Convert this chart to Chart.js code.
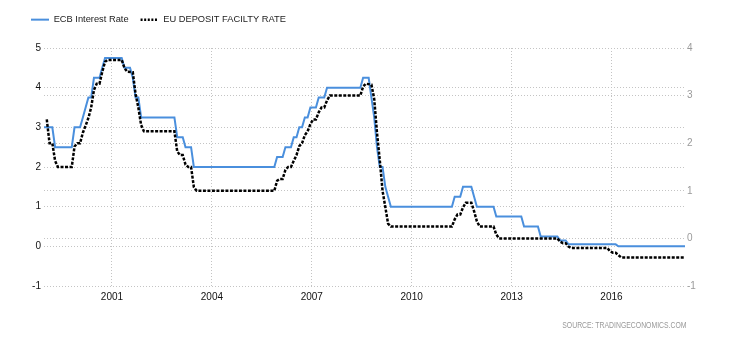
<!DOCTYPE html>
<html>
<head>
<meta charset="utf-8">
<script src="https://cdn.jsdelivr.net/npm/chart.js@4.4.1/dist/chart.umd.min.js"></script>
<style>
  html, body { margin: 0; padding: 0; background: #fff; }
  #wrap { position: relative; width: 730px; height: 340px; }
  #source {
    position: absolute; right: 43px; top: 320px;
    font: 8.4px "Liberation Sans", Arial, sans-serif; color: #999;
    transform: scaleX(0.82); transform-origin: right center; white-space: nowrap;
  }
</style>
</head>
<body>
<div id="wrap">
  <canvas id="rates" width="730" height="340"></canvas>
  <div id="source">SOURCE: TRADINGECONOMICS.COM</div>
</div>
<script>
// ECB main refinancing rate, month-end values (only months where the line bends)
const ecbMonths = [
  '1998-12', '1999-03', '1999-04', '1999-10', '1999-11', '2000-01', '2000-02', '2000-03',
  '2000-04', '2000-05', '2000-06', '2000-08', '2000-09', '2000-10', '2001-04', '2001-05',
  '2001-07', '2001-08', '2001-09', '2001-10', '2001-11', '2002-11', '2002-12', '2003-02',
  '2003-03', '2003-05', '2003-06', '2005-11', '2005-12', '2006-02', '2006-03', '2006-05',
  '2006-06', '2006-07', '2006-08', '2006-09', '2006-10', '2006-11', '2006-12', '2007-02',
  '2007-03', '2007-05', '2007-06', '2008-06', '2008-07', '2008-09', '2008-10', '2008-11',
  '2008-12', '2009-01', '2009-02', '2009-03', '2009-04', '2009-05', '2011-03', '2011-04',
  '2011-06', '2011-07', '2011-10', '2011-11', '2011-12', '2012-06', '2012-07', '2013-04',
  '2013-05', '2013-10', '2013-11', '2014-05', '2014-06', '2014-08', '2014-09', '2016-02',
  '2016-03', '2018-03'
];
const ecbRates = [
  3.00, 3.00, 2.50, 2.50, 3.00, 3.00, 3.25, 3.50,
  3.75, 3.75, 4.25, 4.25, 4.50, 4.75, 4.75, 4.50,
  4.50, 4.25, 3.75, 3.75, 3.25, 3.25, 2.75, 2.75,
  2.50, 2.50, 2.00, 2.00, 2.25, 2.25, 2.50, 2.50,
  2.75, 2.75, 3.00, 3.00, 3.25, 3.25, 3.50, 3.50,
  3.75, 3.75, 4.00, 4.00, 4.25, 4.25, 3.75, 3.25,
  2.50, 2.00, 2.00, 1.50, 1.25, 1.00, 1.00, 1.25,
  1.25, 1.50, 1.50, 1.25, 1.00, 1.00, 0.75, 0.75,
  0.50, 0.50, 0.25, 0.25, 0.15, 0.15, 0.05, 0.05,
  0.00, 0.00
];

// Deposit facility rate, monthly averages (only months where the line bends)
const depositMonths = [
  '1999-01', '1999-02', '1999-03', '1999-04', '1999-05', '1999-10', '1999-11', '1999-12',
  '2000-01', '2000-02', '2000-03', '2000-04', '2000-05', '2000-06', '2000-07', '2000-08',
  '2000-09', '2000-10', '2000-11', '2001-04', '2001-05', '2001-06', '2001-08', '2001-09',
  '2001-10', '2001-11', '2001-12', '2002-11', '2002-12', '2003-01', '2003-02', '2003-03',
  '2003-04', '2003-05', '2003-06', '2003-07', '2005-11', '2005-12', '2006-01', '2006-02',
  '2006-03', '2006-04', '2006-05', '2006-06', '2006-07', '2006-08', '2006-09', '2006-10',
  '2006-11', '2006-12', '2007-01', '2007-02', '2007-03', '2007-04', '2007-05', '2007-06',
  '2007-07', '2008-06', '2008-07', '2008-08', '2008-10', '2008-11', '2008-12', '2009-01',
  '2009-02', '2009-03', '2009-04', '2009-05', '2011-03', '2011-04', '2011-05', '2011-06',
  '2011-07', '2011-08', '2011-10', '2011-11', '2011-12', '2012-01', '2012-06', '2012-07',
  '2012-08', '2014-05', '2014-06', '2014-07', '2014-08', '2014-09', '2014-10', '2015-11',
  '2015-12', '2016-01', '2016-02', '2016-03', '2016-04', '2018-03'
];
const depositRates = [
  2.50, 2.00, 2.00, 1.63, 1.50, 1.50, 1.93, 2.00,
  2.00, 2.22, 2.37, 2.53, 2.75, 3.12, 3.25, 3.25,
  3.50, 3.71, 3.75, 3.75, 3.58, 3.50, 3.49, 3.03,
  2.75, 2.38, 2.25, 2.25, 1.83, 1.75, 1.75, 1.55,
  1.50, 1.50, 1.08, 1.00, 1.00, 1.21, 1.25, 1.25,
  1.44, 1.50, 1.50, 1.63, 1.75, 1.94, 2.00, 2.17,
  2.25, 2.40, 2.50, 2.50, 2.65, 2.75, 2.75, 2.90,
  3.00, 3.00, 3.19, 3.25, 3.23, 2.93, 2.22, 1.65,
  1.00, 0.66, 0.31, 0.25, 0.25, 0.40, 0.50, 0.50,
  0.65, 0.75, 0.75, 0.57, 0.36, 0.25, 0.25, 0.08,
  0.00, 0.00, -0.07, -0.10, -0.10, -0.17, -0.20, -0.20,
  -0.27, -0.30, -0.30, -0.35, -0.40, -0.40
];

const yearTicks = [2001, 2004, 2007, 2010, 2013, 2016];

// 'YYYY-MM' -> fractional year, placed mid-month
function monthToYear(s) {
  const [y, m] = s.split('-').map(Number);
  return y + (m - 0.5) / 12;
}
const toPoints = (months, values) => months.map((m, i) => ({ x: monthToYear(m), y: values[i] }));

const FONT = '"Liberation Sans", Arial, sans-serif';
const GRID = { color: '#c4c4c4', lineWidth: 1, drawTicks: false };
const DOTS = { display: false, dash: [1, 2] };

// push the plot down below the legend row
const legendGap = {
  id: 'legendGap',
  beforeInit(chart) {
    const fit = chart.legend.fit;
    chart.legend.fit = function () {
      fit.call(this);
      this.height += 13.7;
    };
  }
};

// point-style legend items lose the dataset dash, so put it back
function legendLabels(chart) {
  return Chart.defaults.plugins.legend.labels.generateLabels(chart).map(item => {
    const ds = chart.data.datasets[item.datasetIndex];
    return { ...item, lineDash: ds.legendDash || [], lineWidth: ds.borderWidth };
  });
}

new Chart(document.getElementById('rates'), {
  type: 'line',
  data: {
    datasets: [
      {
        label: 'ECB Interest Rate',
        data: toPoints(ecbMonths, ecbRates),
        yAxisID: 'y',
        borderColor: '#4a8fdd',
        backgroundColor: '#4a8fdd',
        borderWidth: 2,
        pointRadius: 0,
        pointStyle: 'line',
        tension: 0,
        order: 1
      },
      {
        label: 'EU DEPOSIT FACILTY RATE',
        data: toPoints(depositMonths, depositRates),
        yAxisID: 'y1',
        borderColor: '#000',
        backgroundColor: '#000',
        borderWidth: 2.5,
        borderDash: [3, 1.5],
        legendDash: [2, 1.6],
        pointRadius: 0,
        pointStyle: 'line',
        tension: 0,
        order: 0
      }
    ]
  },
  options: {
    responsive: false,
    animation: false,
    layout: { padding: { top: 3, left: 19, right: 0, bottom: 0 } },
    plugins: {
      tooltip: { enabled: false },
      legend: {
        position: 'top',
        align: 'start',
        labels: {
          usePointStyle: true,
          pointStyle: 'line',
          pointStyleWidth: 18,
          padding: 12,
          color: '#222',
          font: { family: FONT, size: 9.3 },
          generateLabels: legendLabels,
          sort: (a, b) => a.datasetIndex - b.datasetIndex
        }
      }
    },
    scales: {
      x: {
        type: 'linear',
        min: monthToYear('1998-12'),
        max: monthToYear('2018-03'),
        afterBuildTicks: (scale) => { scale.ticks = yearTicks.map(v => ({ value: v })); },
        afterFit: (scale) => { scale.height = 54; },
        grid: GRID,
        border: DOTS,
        ticks: {
          color: '#111', padding: 5, maxRotation: 0,
          font: { family: FONT, size: 10 },
          callback: (v) => String(v)
        }
      },
      y: {
        position: 'left',
        min: -1, max: 5,
        afterFit: (scale) => { scale.width = 25; },
        grid: GRID,
        border: DOTS,
        ticks: { stepSize: 1, color: '#111', padding: 3, font: { family: FONT, size: 10 } }
      },
      y1: {
        position: 'right',
        min: -1, max: 4,
        afterFit: (scale) => { scale.width = 45; },
        grid: GRID,
        border: DOTS,
        ticks: { stepSize: 1, color: '#9a9a9a', padding: 2, font: { family: FONT, size: 10 } }
      }
    }
  },
  plugins: [legendGap]
});
</script>
</body>
</html>
